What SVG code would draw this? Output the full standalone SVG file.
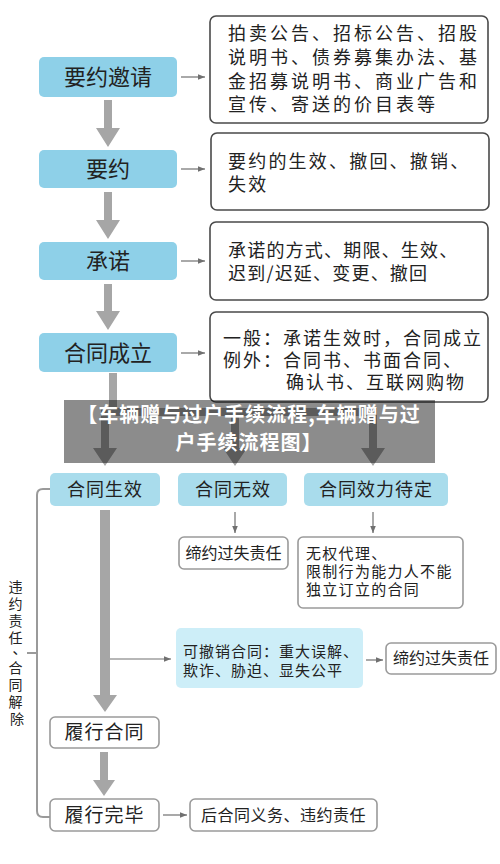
<svg xmlns="http://www.w3.org/2000/svg" width="500" height="864" viewBox="0 0 500 864">
<defs>
<style>
text{font-family:"Noto Sans CJK SC","Noto Sans",sans-serif;fill:#222}
.b1{fill:#8ed0e8}
.b2{fill:#a9dcec}
.b3{fill:#cdeef8}
.rb{fill:#fff;stroke:#4a4a4a;stroke-width:1.6}
.wb{fill:#fff;stroke:#9a9a9a;stroke-width:1.6}
.big{font-size:22px;text-anchor:middle}
.mid{font-size:18px;text-anchor:middle;letter-spacing:1px}
.t18{font-size:18px}
.t16{font-size:16px}
.t15{font-size:15px}
.thin{stroke:#707070;stroke-width:1.2;fill:none}
.fat{fill:#a6a6a6}
.banner{font-size:20px;font-weight:bold;fill:#fff;text-anchor:middle;letter-spacing:1px}
</style>
<marker id="ah" viewBox="0 0 10 10" refX="10" refY="5" markerWidth="7" markerHeight="7" markerUnits="userSpaceOnUse" orient="auto">
<path d="M0,1 L10,5 L0,9 Z" fill="#707070"/>
</marker>
</defs>
<rect width="500" height="864" fill="#fff"/>

<g id="connectors">
<path class="fat" d="M104,100 H112 V128 H120 L108,147 L96,128 H104 Z"/>
<path class="fat" d="M104,192 H112 V220 H120 L108,239 L96,220 H104 Z"/>
<path class="fat" d="M104,284 H112 V311 H120 L108,330 L96,311 H104 Z"/>
<path class="fat" d="M109,373 H117 V408 H377 V448 H385 L373,466 L361,448 H369 V416 H239 V448 H247 L235,466 L223,448 H231 V416 H109 V448 H117 L105,466 L93,448 H101 V408 H109 Z"/>
<path class="fat" d="M100,510 H110 V695 H117 L105,712 L93,695 H100 Z"/>
<path class="fat" d="M100,752 H108 V780 H115 L104,796 L93,780 H100 Z"/>
<line class="thin" x1="181" y1="77" x2="205" y2="77" marker-end="url(#ah)"/>
<line class="thin" x1="181" y1="169" x2="205" y2="169" marker-end="url(#ah)"/>
<line class="thin" x1="181" y1="261" x2="205" y2="261" marker-end="url(#ah)"/>
<line class="thin" x1="181" y1="353" x2="205" y2="353" marker-end="url(#ah)"/>
<line class="thin" x1="235" y1="512" x2="235" y2="533" marker-end="url(#ah)"/>
<line class="thin" x1="373" y1="512" x2="373" y2="533" marker-end="url(#ah)"/>
<line class="thin" x1="110" y1="659" x2="171" y2="659" marker-end="url(#ah)"/>
<line class="thin" x1="366" y1="660" x2="383" y2="660" marker-end="url(#ah)"/>
<line class="thin" x1="163" y1="815" x2="187" y2="815" marker-end="url(#ah)"/>
<path d="M50,489 H43 Q37,489 37,495 V811 Q37,817 43,817 H50 M37,653 H27" fill="none" stroke="#9a9a9a" stroke-width="2"/>
</g>

<g id="n-yaoyueyaoqing">
<rect class="b1" x="39" y="57" width="138" height="40" rx="5"/>
<text class="big" x="108" y="85">要约邀请</text>
</g>
<g id="n-desc1">
<rect class="rb" x="210" y="16" width="278" height="107" rx="6"/>
<text class="t18" x="228" y="40" letter-spacing="3">拍卖公告、招标公告、招股</text>
<text class="t18" x="228" y="64" letter-spacing="3">说明书、债券募集办法、基</text>
<text class="t18" x="228" y="88" letter-spacing="3">金招募说明书、商业广告和</text>
<text class="t18" x="228" y="111" letter-spacing="3">宣传、寄送的价目表等</text>
</g>

<g id="n-yaoyue">
<rect class="b1" x="39" y="150" width="138" height="38" rx="5"/>
<text class="big" x="108" y="177">要约</text>
</g>
<g id="n-desc2">
<rect class="rb" x="211" y="133" width="278" height="77" rx="6"/>
<text class="t18" x="228" y="168" letter-spacing="2.2">要约的生效、撤回、撤销、</text>
<text class="t18" x="228" y="191" letter-spacing="2.2">失效</text>
</g>

<g id="n-chengnuo">
<rect class="b1" x="39" y="242" width="138" height="38" rx="5"/>
<text class="big" x="108" y="269">承诺</text>
</g>
<g id="n-desc3">
<rect class="rb" x="210" y="222" width="278" height="78" rx="6"/>
<text class="t18" x="228" y="257" letter-spacing="1.2">承诺的方式、期限、生效、</text>
<text class="t18" x="228" y="280" letter-spacing="1.2">迟到/迟延、变更、撤回</text>
</g>

<g id="n-chengli">
<rect class="b1" x="39" y="333" width="138" height="39" rx="5"/>
<text class="big" x="108" y="361">合同成立</text>
</g>
<g id="n-desc4">
<rect class="rb" x="210" y="312" width="278" height="90" rx="6"/>
<text class="t18" x="223" y="345" letter-spacing="2">一般：承诺生效时，合同成立</text>
<text class="t18" x="223" y="367" letter-spacing="2">例外：合同书、书面合同、</text>
<text class="t18" x="286" y="389" letter-spacing="2">确认书、互联网购物</text>
</g>

<g id="n-shengxiao">
<rect class="b2" x="50" y="473" width="110" height="33" rx="5"/>
<text class="mid" x="105" y="496">合同生效</text>
</g>
<g id="n-wuxiao">
<rect class="b2" x="178" y="473" width="109" height="33" rx="5"/>
<text class="mid" x="233" y="496">合同无效</text>
</g>
<g id="n-daiding">
<rect class="b2" x="304" y="473" width="144" height="33" rx="5"/>
<text class="mid" x="376" y="496">合同效力待定</text>
</g>

<g id="n-zeren1">
<rect class="wb" x="179" y="537" width="109" height="32" rx="5"/>
<text class="t16" x="233.5" y="559" text-anchor="middle">缔约过失责任</text>
</g>
<g id="n-wuquan">
<rect class="wb" x="298" y="537" width="165" height="71" rx="5"/>
<text class="t15" x="306" y="559" letter-spacing="1.3">无权代理、</text>
<text class="t15" x="306" y="577" letter-spacing="1.3">限制行为能力人不能</text>
<text class="t15" x="306" y="595" letter-spacing="1.3">独立订立的合同</text>
</g>

<g id="n-kechexiao">
<rect class="b3" x="176" y="628" width="187" height="60" rx="5"/>
<text class="t15" x="183" y="657" letter-spacing="1">可撤销合同：重大误解、</text>
<text class="t15" x="183" y="676" letter-spacing="1">欺诈、胁迫、显失公平</text>
</g>
<g id="n-zeren2">
<rect class="wb" x="386" y="643" width="110" height="31" rx="5"/>
<text class="t16" x="441" y="664" text-anchor="middle">缔约过失责任</text>
</g>

<g id="n-lvxing">
<rect class="wb" x="50" y="717" width="109" height="31" rx="5"/>
<text class="mid" x="104.5" y="739" style="font-size:19px">履行合同</text>
</g>
<g id="n-wanbi">
<rect class="wb" x="50" y="799" width="109" height="32" rx="5"/>
<text class="mid" x="104.5" y="822" style="font-size:19px">履行完毕</text>
</g>
<g id="n-hou">
<rect class="wb" x="190" y="799" width="187" height="32" rx="5"/>
<text class="t16" x="283.5" y="821" text-anchor="middle" letter-spacing="0.5">后合同义务、违约责任</text>
</g>

<g id="n-side-label">
<text style="font-size:14px" text-anchor="middle">
<tspan x="17" y="592">违</tspan>
<tspan x="17" y="609">约</tspan>
<tspan x="17" y="626">责</tspan>
<tspan x="17" y="643">任</tspan>
<tspan x="21" y="654">、</tspan>
<tspan x="17" y="673">合</tspan>
<tspan x="17" y="690">同</tspan>
<tspan x="17" y="707">解</tspan>
<tspan x="17" y="724">除</tspan>
</text>
</g>

<g id="banner">
<rect x="64" y="400" width="371" height="63" fill="#000" fill-opacity="0.45"/>
<text class="banner" x="249" y="422">【车辆赠与过户手续流程,车辆赠与过</text>
<text class="banner" x="249" y="450">户手续流程图】</text>
</g>
</svg>
